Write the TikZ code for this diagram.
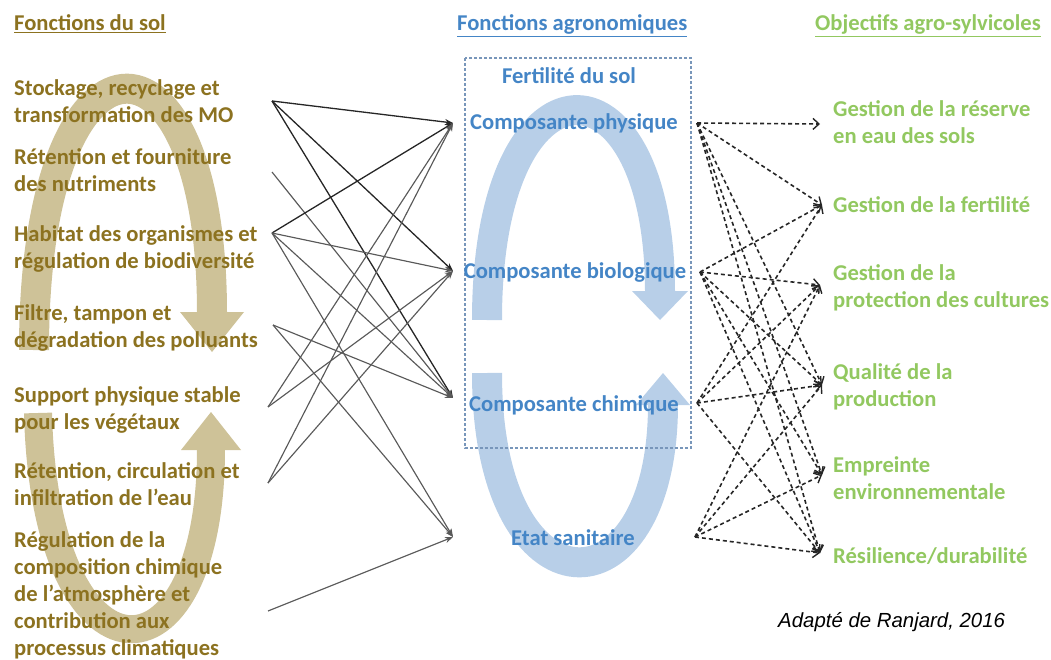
\documentclass[tikz,border=0pt]{standalone}
\usepackage{fontspec}
\setmainfont{Carlito}
\newfontfamily\creditfont{Liberation Sans}
\usetikzlibrary{arrows.meta}

\definecolor{soilbrown}{RGB}{140,114,32}
\definecolor{soilarc}{RGB}{206,194,152}
\definecolor{agroblue}{RGB}{68,133,198}
\definecolor{agroarc}{RGB}{184,207,232}
\definecolor{boxblue}{RGB}{120,150,186}
\definecolor{silvgreen}{RGB}{146,200,96}

% multi-line nodes are placed by the baseline of their last line
\tikzset{
  txt/.style={inner sep=0pt, font=\fontsize{22.6}{27}\selectfont\bfseries},
  soiltext/.style={txt, anchor=base west, align=left, text=soilbrown},
  agrotext/.style={txt, anchor=base, align=center, text=agroblue},
  silvtext/.style={txt, anchor=base west, align=left, text=silvgreen},
  heading/.style={txt, anchor=base west},
  band/.style={line width=30pt, line cap=butt},
  solidlink/.style={draw=black!65, line width=1.15pt, -{Stealth[length=8pt,width=6pt]}},
  darklink/.style={draw=black!85, line width=1.3pt, -{Stealth[length=8pt,width=6pt]}},
  dashlink/.style={draw=black!85, line width=1.6pt, dash pattern=on 4pt off 3pt,
    -{Straight Barb[length=6pt,width=11pt,line width=1.4pt]}},
}

\begin{document}
\begin{tikzpicture}[x=1pt,y=-1pt]
\useasboundingbox (0,0) rectangle (1051,660);

% curved cycle arrows behind the texts
\draw[soilarc, band] (34,350) .. controls (34,8) and (212,8) .. (212,313);
\fill[soilarc] (180,312) -- (244,312) -- (212,352) -- cycle;
\draw[soilarc, band, line width=28pt] (38,413) .. controls (45,695) and (211,695) .. (211,449);
\fill[soilarc] (181,450) -- (241,450) -- (211,412) -- cycle;

\draw[agroarc, band] (487,320) .. controls (487,45) and (660,45) .. (660,292);
\fill[agroarc] (632,291) -- (688,291) -- (660,320) -- cycle;
\draw[agroarc, band] (487,373) .. controls (487,620) and (663,620) .. (663,404);
\fill[agroarc] (636,405) -- (690,405) -- (663,373) -- cycle;

% frame around soil fertility
\draw[boxblue, line width=2.6pt, dash pattern=on 2.6pt off 2.4pt] (465,58) rectangle (691,448);

% column headings
\node[heading, text=soilbrown] (hsol) at (14,31) {\underline{Fonctions du sol}};
\node[heading, text=agroblue] (hagro) at (457,31) {\underline{Fonctions agronomiques}};
\node[heading, text=silvgreen] (hsilv) at (815,31) {\underline{Objectifs agro-sylvicoles}};

% soil functions
\node[soiltext] (f1) at (14,123) {Stockage, recyclage et\\transformation des MO};
\node[soiltext] (f2) at (14,192) {Rétention et fourniture\\des nutriments};
\node[soiltext] (f3) at (14,269) {Habitat des organismes et\\régulation de biodiversité};
\node[soiltext] (f4) at (14,347) {Filtre, tampon et\\dégradation des polluants};
\node[soiltext] (f5) at (14,429) {Support physique stable\\pour les végétaux};
\node[soiltext] (f6) at (14,505) {Rétention, circulation et\\infiltration de l’eau};
\node[soiltext] (f7) at (14,655) {Régulation de la\\composition chimique\\de l’atmosphère et\\contribution aux\\processus climatiques};

% agronomic functions
\node[agrotext] (fert) at (569,84) {Fertilité du sol};
\node[agrotext] (phys) at (574,130) {Composante physique};
\node[agrotext] (bio) at (575,278) {Composante biologique};
\node[agrotext] (chim) at (574,411) {Composante chimique};
\node[agrotext] (sani) at (573,545) {Etat sanitaire};

% agro-sylvicultural objectives
\node[silvtext] (o1) at (833,144) {Gestion de la réserve\\en eau des sols};
\node[silvtext] (o2) at (833,213) {Gestion de la fertilité};
\node[silvtext] (o3) at (833,307) {Gestion de la\\protection des cultures};
\node[silvtext] (o4) at (833,406) {Qualité de la\\production};
\node[silvtext] (o5) at (833,499) {Empreinte\\environnementale};
\node[silvtext] (o6) at (833,563) {Résilience/durabilité};

\node[anchor=base west, inner sep=0pt, font=\fontsize{20.4}{24}\selectfont\creditfont\itshape] (credit) at (778,627) {Adapté de Ranjard, 2016};

% connector ends
\coordinate (s1) at (272,101);
\coordinate (s2) at (272,172);
\coordinate (s3) at (272,233);
\coordinate (s4) at (273,325);
\coordinate (s5) at (268,407);
\coordinate (s6) at (268,483);
\coordinate (s7) at (268,611);
\coordinate (t1) at (453,123);
\coordinate (t2) at (453,271);
\coordinate (t3) at (453,398);
\coordinate (t4) at (453,537);

\coordinate (r1) at (697,123);
\coordinate (r2) at (700,272);
\coordinate (r3) at (697,403);
\coordinate (r4) at (695,537);
\coordinate (g1) at (820,124);
\coordinate (g2) at (822,205);
\coordinate (g3) at (820,285);
\coordinate (g4) at (822,385);
\coordinate (g5) at (822,475);
\coordinate (g6) at (820,553);

% soil functions -> agronomic functions
\draw[darklink] (s1) -- (t1);
\draw[darklink] (s1) -- (t2);
\draw[darklink] (s1) -- (t3);
\draw[solidlink] (s2) -- (t3);
\draw[darklink] (s3) -- (t1);
\draw[solidlink] (s3) -- (t2);
\draw[solidlink] (s3) -- (t3);
\draw[solidlink] (s3) -- (t4);
\draw[solidlink] (s4) -- (t3);
\draw[solidlink] (s4) -- (t4);
\draw[solidlink] (s5) -- (t1);
\draw[solidlink] (s5) -- (t2);
\draw[solidlink] (s6) -- (t1);
\draw[solidlink] (s6) -- (t2);
\draw[solidlink] (s7) -- (t4);

% agronomic functions -> objectives
\foreach \a/\b in {r1/g1, r1/g2, r1/g4, r1/g5, r1/g6,
                   r2/g2, r2/g3, r2/g4, r2/g5, r2/g6,
                   r3/g2, r3/g3, r3/g4, r3/g6,
                   r4/g3, r4/g4, r4/g5, r4/g6}
  \draw[dashlink] (\a) -- (\b);
\end{tikzpicture}
\end{document}
